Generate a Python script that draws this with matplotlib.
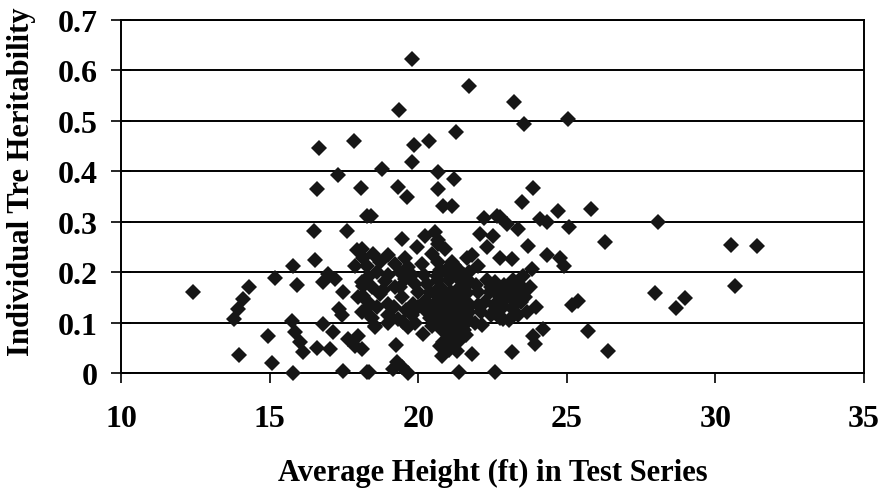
import matplotlib
matplotlib.use('Agg')
import matplotlib.pyplot as plt

# average height of each test series (ft) and the individual-tree heritability
height = [
    16.66, 17.85, 17.31, 16.58, 18.07,
    19.80, 21.71, 19.34, 23.23, 23.57, 25.04, 21.26, 19.86, 20.37, 19.78, 18.77,
    20.66, 21.20, 20.66, 19.33, 19.61, 23.87, 23.50, 20.83, 21.13, 24.71, 25.81,
    18.27, 16.49, 17.61, 16.53, 15.78, 17.93, 18.15, 18.27, 15.18, 15.91, 16.98,
    17.20, 16.81, 17.48, 18.15, 18.15, 18.21, 17.35, 17.43, 12.43, 14.32, 14.12,
    13.95, 13.80, 15.74, 16.81, 17.14, 15.85, 16.02, 16.13, 14.96, 16.58, 17.03,
    17.65, 17.87, 17.98, 13.98, 15.09, 15.78, 17.48, 18.27,
    18.41, 22.21, 22.75, 22.98, 24.10, 24.32, 23.37, 25.08, 26.29, 23.70, 24.32,
    24.77, 24.90, 22.08, 22.53, 22.31, 21.80, 22.02, 22.75, 23.15, 23.82, 23.76,
    23.98, 25.39, 25.16, 24.21, 23.87, 23.93, 25.72, 26.40, 23.15, 21.80, 20.17,
    19.25, 18.35, 19.28, 19.44, 19.16, 19.67, 21.38, 22.58, 18.10, 20.79, 21.30,
    20.73, 21.41, 22.86, 18.55, 19.50,
    28.08, 30.53, 31.39, 30.66, 27.97, 28.98, 28.67,
    19.44, 20.23, 20.57, 20.68, 19.95, 18.10, 18.49, 18.99, 19.56, 20.45, 17.87,
    18.72, 19.22, 19.67, 20.12, 20.68, 20.62, 18.10, 18.44, 18.88, 19.22, 19.56,
    19.89, 20.29, 17.98, 18.32, 18.72, 18.99, 19.44, 19.84, 20.23, 20.51, 18.10,
    18.44, 18.99, 19.33, 19.78, 20.29, 20.68, 18.55, 19.67, 20.45,
    22.64, 20.68, 20.90, 23.54, 21.13, 21.35, 21.01, 21.63,
    20.75, 21.05, 21.30, 21.55, 21.75, 20.85, 21.10, 21.40, 21.65, 20.70, 20.95,
    21.20, 21.50, 21.75, 20.80, 21.05, 21.35, 21.60, 20.90, 21.15, 21.45, 21.70,
    21.00, 21.25, 20.85, 21.55, 21.07,
    20.65, 20.95, 21.20, 21.45, 21.70, 20.75, 21.00, 21.30, 21.55, 20.70, 21.10,
    21.40, 21.70, 20.75, 21.30, 21.55, 20.80, 21.15, 21.40, 21.05, 21.60,
    22.30, 22.60, 22.90, 23.20, 23.45, 22.40, 22.70, 23.00, 23.30, 22.25, 22.55,
    22.85, 23.15, 23.45, 22.45, 22.75, 23.05, 23.35, 22.10, 22.00,
    22.45, 22.80, 23.10, 22.60, 23.25, 22.90,
    21.95, 22.00, 21.90, 22.15, 23.60, 23.65,
    18.60, 19.00, 19.40, 19.80, 20.20, 18.30, 18.80, 19.40, 20.00, 20.40, 18.60,
    19.20, 19.60, 20.00, 20.40, 19.00, 19.90,
]
heritability = [
    0.446, 0.461, 0.393, 0.365, 0.367,
    0.623, 0.569, 0.522, 0.537, 0.494, 0.504, 0.478, 0.452, 0.461, 0.419, 0.405,
    0.398, 0.384, 0.365, 0.368, 0.349, 0.366, 0.340, 0.332, 0.332, 0.322, 0.326,
    0.312, 0.281, 0.281, 0.224, 0.212, 0.243, 0.229, 0.213, 0.188, 0.175, 0.196,
    0.187, 0.180, 0.160, 0.173, 0.153, 0.124, 0.127, 0.114, 0.160, 0.170, 0.147,
    0.127, 0.107, 0.104, 0.097, 0.081, 0.081, 0.061, 0.041, 0.074, 0.049, 0.048,
    0.067, 0.054, 0.074, 0.036, 0.020, 0.000, 0.003, 0.001,
    0.312, 0.307, 0.309, 0.296, 0.306, 0.299, 0.286, 0.289, 0.259, 0.251, 0.233,
    0.229, 0.213, 0.276, 0.272, 0.249, 0.233, 0.213, 0.229, 0.226, 0.206, 0.170,
    0.130, 0.143, 0.134, 0.087, 0.074, 0.058, 0.084, 0.044, 0.042, 0.038, 0.077,
    0.056, 0.001, 0.021, 0.011, 0.008, 0.000, 0.001, 0.001, 0.048, 0.034, 0.044,
    0.054, 0.081, 0.107, 0.094, 0.101,
    0.299, 0.253, 0.251, 0.172, 0.159, 0.148, 0.128,
    0.266, 0.272, 0.279, 0.263, 0.249, 0.246, 0.236, 0.233, 0.229, 0.236, 0.213,
    0.220, 0.216, 0.210, 0.216, 0.220, 0.193, 0.180, 0.170, 0.183, 0.170, 0.186,
    0.177, 0.177, 0.150, 0.140, 0.157, 0.137, 0.150, 0.137, 0.143, 0.134, 0.120,
    0.110, 0.114, 0.107, 0.114, 0.120, 0.117, 0.091, 0.091, 0.094,
    0.312, 0.256, 0.246, 0.193, 0.220, 0.206, 0.196, 0.229,
    0.205, 0.185, 0.190, 0.195, 0.180, 0.165, 0.160, 0.170, 0.158, 0.150, 0.140,
    0.145, 0.138, 0.135, 0.125, 0.118, 0.122, 0.115, 0.100, 0.095, 0.100, 0.105,
    0.080, 0.070, 0.062, 0.085, 0.058,
    0.185, 0.205, 0.215, 0.185, 0.200, 0.170, 0.150, 0.155, 0.165, 0.135, 0.130,
    0.125, 0.120, 0.105, 0.108, 0.095, 0.085, 0.075, 0.065, 0.045, 0.075,
    0.185, 0.180, 0.175, 0.185, 0.172, 0.160, 0.155, 0.150, 0.158, 0.140, 0.135,
    0.130, 0.128, 0.140, 0.115, 0.110, 0.105, 0.115, 0.120, 0.160,
    0.170, 0.165, 0.170, 0.125, 0.140, 0.145,
    0.175, 0.135, 0.100, 0.095, 0.150, 0.120,
    0.200, 0.195, 0.200, 0.195, 0.195, 0.190, 0.165, 0.170, 0.160, 0.160, 0.130,
    0.130, 0.125, 0.130, 0.110, 0.100, 0.100,
]

x_ticks = [10, 15, 20, 25, 30, 35]
y_ticks = [0, 0.1, 0.2, 0.3, 0.4, 0.5, 0.6, 0.7]
y_ticklabels = ['0', '0.1', '0.2', '0.3', '0.4', '0.5', '0.6', '0.7']

plt.rcParams['font.family'] = ['Liberation Serif', 'DejaVu Serif']
plt.rcParams['font.weight'] = 'bold'

fig = plt.figure(figsize=(8.82, 4.89), dpi=100)
ax = fig.add_axes([0.1372, 0.2352, 0.8424, 0.7219])

ax.plot(height, heritability, linestyle='none', marker='D', markersize=7.8,
        color='#161616', markeredgewidth=0, clip_on=False, zorder=3)

ax.set_xlim(10, 35)
ax.set_ylim(0, 0.7)
ax.set_xticks(x_ticks)
ax.set_yticks(y_ticks)
ax.set_yticklabels(y_ticklabels)

# horizontal grid only
ax.grid(axis='y', color='black', linewidth=1.4)
ax.set_axisbelow(True)
for s in ax.spines.values():
    s.set_color('black')
    s.set_linewidth(1.4)

ax.tick_params(axis='x', direction='out', length=7, width=1.2, pad=15, labelsize=23)
ax.tick_params(axis='y', direction='inout', length=14, width=1.2, pad=10, labelsize=23)
for lab in ax.get_xticklabels() + ax.get_yticklabels():
    lab.set_fontweight('bold')

ax.set_ylabel('Individual Tre Heritability', fontsize=22, fontweight='bold')
ax.yaxis.set_label_coords(-0.114, 0.544)
fig.text(0.5 * (0.1372 + 0.9796), 0.016, 'Average Height (ft) in Test Series',
         fontsize=22, fontweight='bold', ha='center', va='baseline')

fig.savefig('out.png', dpi=100)
